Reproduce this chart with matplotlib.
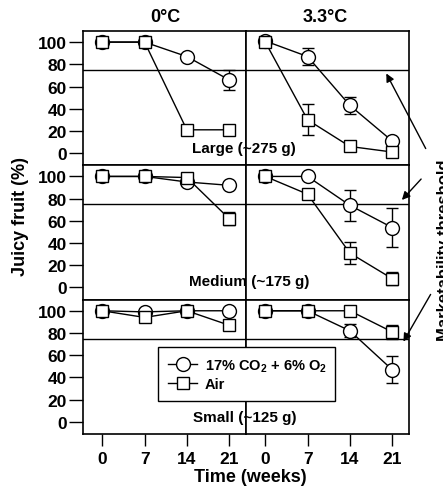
import matplotlib
matplotlib.use("Agg")
import matplotlib.pyplot as plt
from matplotlib.patches import FancyArrowPatch
from matplotlib.lines import Line2D
import numpy as np

plt.rcParams['font.family'] = ['Liberation Sans', 'DejaVu Sans']
plt.rcParams['font.weight'] = 'bold'
plt.rcParams['mathtext.fontset'] = 'custom'
plt.rcParams['mathtext.rm'] = 'Liberation Sans:bold'
plt.rcParams['mathtext.default'] = 'rm'

## data: weeks of storage, % juicy fruit (CA = 17% CO2 + 6% O2)
weeks = [0, 7, 14, 21]
temps = ["0°C", "3.3°C"]
sizes = ["Large (~275 g)", "Medium (~175 g)", "Small (~125 g)"]

large_0_ca = [100, 100, 87, 66]
large_0_ca_err = [0, 0, 0, 9]
large_0_air = [100, 100, 21, 21]
large_0_air_err = [0, 0, 0, 0]
large_33_ca = [101, 87, 43, 11]
large_33_ca_err = [0, 8, 8, 0]
large_33_air = [100, 30, 6, 1]
large_33_air_err = [0, 14, 0, 0]

medium_0_ca = [100, 100, 95, 92]
medium_0_ca_err = [0, 0, 0, 0]
medium_0_air = [100, 100, 99, 62]
medium_0_air_err = [0, 0, 0, 6]
medium_33_ca = [100, 100, 74, 54]
medium_33_ca_err = [0, 0, 14, 18]
medium_33_air = [100, 84, 31, 8]
medium_33_air_err = [0, 3, 10, 6]

small_0_ca = [100, 99, 100, 100]
small_0_ca_err = [0, 0, 0, 0]
small_0_air = [100, 94, 100, 87]
small_0_air_err = [0, 0, 0, 0]
small_33_ca = [100, 100, 82, 47]
small_33_ca_err = [0, 0, 6, 12]
small_33_air = [100, 100, 100, 81]
small_33_air_err = [0, 0, 0, 6]

threshold = 75
yticks = [0, 20, 40, 60, 80, 100]

panels = [
    [(large_0_ca, large_0_ca_err, large_0_air, large_0_air_err),
     (large_33_ca, large_33_ca_err, large_33_air, large_33_air_err)],
    [(medium_0_ca, medium_0_ca_err, medium_0_air, medium_0_air_err),
     (medium_33_ca, medium_33_ca_err, medium_33_air, medium_33_air_err)],
    [(small_0_ca, small_0_ca_err, small_0_air, small_0_air_err),
     (small_33_ca, small_33_ca_err, small_33_air, small_33_air_err)],
]

W, H = 443, 489
def fx(px):
    return px / W
def fy(py):
    return 1 - py / H

fig, axes = plt.subplots(3, 2, figsize=(4.43, 4.89), dpi=100)
fig.subplots_adjust(left=fx(83), right=fx(409), top=fy(32), bottom=fy(435),
                    wspace=0, hspace=0)


def draw_series(ax, vals, errs, marker, ms):
    x = np.array(weeks)
    v = np.array(vals, dtype=float)
    e = np.array(errs, dtype=float)
    keep = e > 0
    if keep.any():
        ax.errorbar(x[keep], v[keep], yerr=e[keep], fmt='none', ecolor='k',
                    elinewidth=1, capsize=4, capthick=1, zorder=2)
    ax.plot(x, v, color='k', lw=1, marker=marker, ms=ms, mfc='white',
            mec='k', mew=1, zorder=3, clip_on=False)


for r in range(3):
    for c in range(2):
        ax = axes[r][c]
        ca, ca_err, air, air_err = panels[r][c]
        draw_series(ax, ca, ca_err, 'o', 10)
        draw_series(ax, air, air_err, 's', 8.5)
        ax.axhline(threshold, color='k', lw=1, zorder=1)
        ax.set_xlim(-3.2, 23.8)
        ax.set_ylim(-11, 110)
        for sp in ax.spines.values():
            sp.set_linewidth(1.2)
        ax.set_xticks(weeks)
        ax.set_yticks(yticks)
        if c == 0:
            ax.tick_params(axis='y', direction='out', length=10, width=1,
                           pad=1.5, labelsize=12.5)
        else:
            ax.tick_params(axis='y', left=False, labelleft=False)
        if r == 2:
            ax.tick_params(axis='x', direction='out', length=8.5, width=1,
                           pad=4, labelsize=12.5)
        else:
            ax.tick_params(axis='x', bottom=False, labelbottom=False)

# column titles
fig.text(fx(165), fy(18), temps[0], ha='center', va='center', fontsize=13)
fig.text(fx(325), fy(18), temps[1], ha='center', va='center', fontsize=13)

# size labels across both columns
fig.text(fx(244), fy(149), sizes[0], ha='center', va='center', fontsize=11)
fig.text(fx(249), fy(282), sizes[1], ha='center', va='center', fontsize=11)
fig.text(fx(245), fy(418), sizes[2], ha='center', va='center', fontsize=11)

fig.text(fx(21), fy(217), "Juicy fruit (%)", rotation=90, ha='center',
         va='center', fontsize=13)
fig.text(fx(250), fy(478), "Time (weeks)", ha='center', va='center',
         fontsize=13)

# marketability threshold note (cut by the right edge, as in the source)
fig.text(fx(437), fy(250), "Marketability threshold", rotation=90,
         ha='left', va='center', fontsize=12)
arrows = [((427, 152), (385, 72)), ((423, 178), (400, 203)),
          ((432, 293), (402, 345))]
for tail, tip in arrows:
    fig.add_artist(FancyArrowPatch((fx(tail[0]), fy(tail[1])),
                                   (fx(tip[0]), fy(tip[1])),
                                   transform=fig.transFigure,
                                   arrowstyle='-|>', mutation_scale=12,
                                   lw=1, color='k', zorder=10))

# legend
handles = [Line2D([], [], color='k', lw=1, marker='o', ms=10, mfc='white',
                  mec='k'),
           Line2D([], [], color='k', lw=1, marker='s', ms=8.5, mfc='white',
                  mec='k')]
labels = ["17% CO$_2$ + 6% O$_2$", "Air"]
leg = fig.legend(handles, labels, loc='upper left',
                 bbox_to_anchor=(fx(158), fy(348), fx(335) - fx(158), 0),
                 mode='expand', borderaxespad=0, frameon=True, fancybox=False,
                 edgecolor='k', framealpha=1, fontsize=10.5, handlelength=2,
                 handletextpad=0.5, borderpad=0.7, labelspacing=0.25)
leg.get_frame().set_linewidth(1)
leg.set_zorder(10)

fig.savefig("out.png", dpi=100)
